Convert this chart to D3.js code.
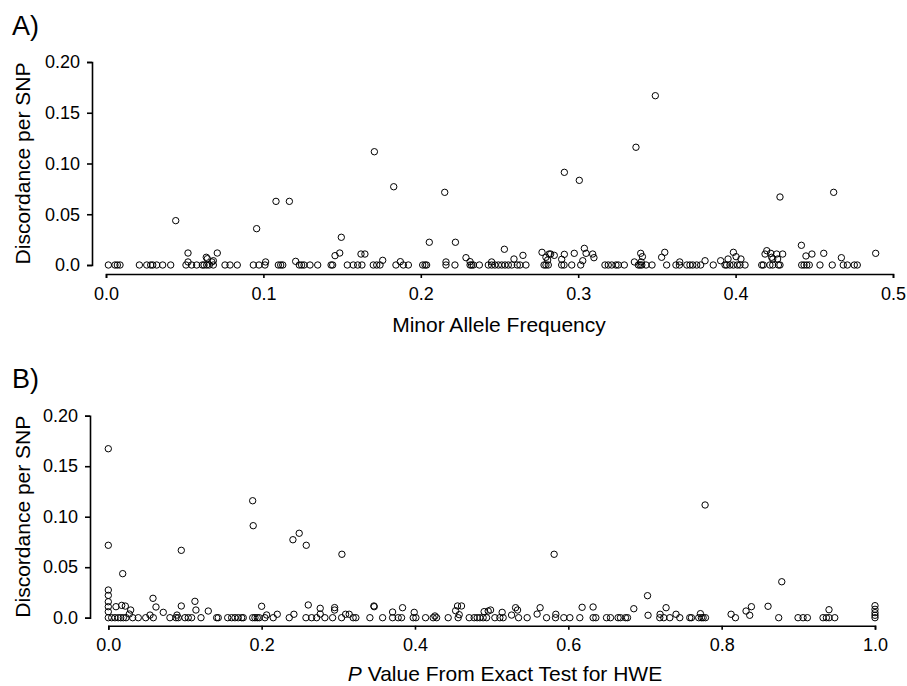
<!DOCTYPE html>
<html>
<head>
<meta charset="utf-8">
<script src="https://cdn.jsdelivr.net/npm/d3@7"></script>
<style>
  html, body { margin: 0; padding: 0; background: #fff; }
  svg { display: block; font-family: "Liberation Sans", Arial, sans-serif; }
</style>
</head>
<body>
<svg id="chart" width="907" height="686"></svg>
<script>
// ---------- Panel A data: Minor Allele Frequency vs discordance ----------
const mafTicks = [0.0, 0.1, 0.2, 0.3, 0.4, 0.5];
const discTicks = [0.0, 0.05, 0.10, 0.15, 0.20];
const discTickLabels = ["0.0", "0.05", "0.10", "0.15", "0.20"];

// SNPs with zero discordance (MAF)
const mafZeroDisc = [0.0015, 0.0057, 0.0072, 0.0089, 0.0212, 0.0259, 0.0284, 0.0297, 0.0322, 0.036, 0.0411,
  0.0508, 0.0544, 0.0576, 0.0612, 0.0623, 0.064, 0.0656, 0.0682, 0.0756, 0.0788, 0.0834,
  0.0936, 0.0972, 0.101, 0.1095, 0.111, 0.1123, 0.1228, 0.1243, 0.1258, 0.1296, 0.1345,
  0.143, 0.144, 0.1533, 0.1571, 0.1599, 0.1626, 0.1698, 0.172, 0.1741, 0.1842, 0.1889, 0.1921,
  0.2012, 0.2027, 0.2037, 0.216, 0.2217, 0.2313, 0.2323, 0.2334, 0.2372,
  0.2429, 0.245, 0.2471, 0.2493, 0.2514, 0.2535, 0.2556, 0.2578, 0.2613, 0.263, 0.2668,
  0.2783, 0.2795, 0.281, 0.2895, 0.291, 0.2959, 0.3016,
  0.317, 0.3191, 0.3213, 0.324, 0.3255, 0.3293, 0.3382, 0.3393, 0.3404, 0.3431, 0.3469,
  0.3562, 0.3621, 0.3643, 0.369, 0.371, 0.3728, 0.3753, 0.3778, 0.3858,
  0.3933, 0.3943, 0.3964, 0.3986, 0.4011, 0.4028, 0.406,
  0.4166, 0.4176, 0.4218, 0.4236, 0.4272, 0.4282, 0.442, 0.4435, 0.4452, 0.4468,
  0.4536, 0.4614, 0.4684, 0.471, 0.4754, 0.4773];

// SNPs with non-zero discordance
const mafNonZero = [0.0443, 0.0957, 0.108, 0.1165, 0.1705, 0.1828, 0.2152, 0.1495, 0.2054, 0.222,
  0.1485, 0.1455, 0.0521, 0.0707, 0.0637, 0.0644, 0.0682, 0.0673, 0.0521,
  0.162, 0.1645, 0.1758, 0.1205, 0.1014, 0.187, 0.216,
  0.349, 0.3367, 0.2912, 0.3007, 0.4282, 0.4623,
  0.4418, 0.2531, 0.277, 0.2815, 0.2825, 0.2848, 0.2912, 0.2975, 0.3039, 0.305, 0.3092, 0.31,
  0.2649, 0.2592, 0.2287, 0.2313, 0.245, 0.2795, 0.2806, 0.2895, 0.3029, 0.3357, 0.3397, 0.3408,
  0.34, 0.355, 0.353, 0.3645, 0.3806, 0.3905, 0.3986, 0.3952, 0.4003, 0.4034,
  0.4198, 0.4187, 0.4223, 0.4261, 0.4299, 0.4229, 0.4236, 0.4267, 0.4447, 0.4485, 0.456, 0.4672, 0.489];
const discNonZeroA = [0.0437, 0.0358, 0.0627, 0.0627, 0.1116, 0.0771, 0.0716, 0.0273, 0.0224, 0.0224,
  0.0118, 0.0092, 0.0118, 0.0118, 0.0076, 0.0062, 0.0042, 0.003, 0.003,
  0.0108, 0.0108, 0.0046, 0.0036, 0.003, 0.0033, 0.003,
  0.1668, 0.116, 0.0913, 0.0834, 0.067, 0.0716,
  0.0194, 0.0155, 0.0125, 0.0108, 0.0108, 0.0095, 0.0105, 0.0115, 0.0164, 0.0115, 0.0108, 0.0072,
  0.0095, 0.0059, 0.0072, 0.0033, 0.003, 0.0076, 0.0049, 0.0056, 0.0042, 0.003, 0.0115, 0.0082,
  0.003, 0.0125, 0.0076, 0.003, 0.0042, 0.0042, 0.0125, 0.0059, 0.0082, 0.0059,
  0.0141, 0.0108, 0.0115, 0.0108, 0.0108, 0.0076, 0.0059, 0.0059, 0.0089, 0.0108, 0.0115, 0.0072, 0.0115];

// ---------- Panel B data: HWE exact test P value vs discordance ----------
const pTicks = [0.0, 0.2, 0.4, 0.6, 0.8, 1.0];

const pZeroDisc = [0, 0.0044, 0.0087, 0.013, 0.0162, 0.0196, 0.0231, 0.0318, 0.0391, 0.0488, 0.0587,
  0.0804, 0.0883, 0.0913, 0.1, 0.1043, 0.1087, 0.1209,
  0.1413, 0.1434, 0.1557, 0.1609, 0.1652, 0.1695, 0.1739, 0.176,
  0.1883, 0.1913, 0.1943, 0.1969, 0.2043, 0.2151, 0.236,
  0.2578, 0.2652, 0.2717, 0.2825, 0.2926, 0.3043, 0.3194, 0.3229,
  0.3412, 0.3578, 0.3708, 0.3781, 0.3825, 0.3977, 0.4012, 0.4138, 0.4237, 0.4282, 0.4433, 0.4563,
  0.4707, 0.4772, 0.4811, 0.4846, 0.4889, 0.4934, 0.5042, 0.5107, 0.515, 0.5351, 0.5463,
  0.5716, 0.5833, 0.5941, 0.602, 0.615, 0.6324, 0.6359, 0.6498, 0.655, 0.6649, 0.668, 0.6746, 0.6772,
  0.7193, 0.7245, 0.7324, 0.7454, 0.7584, 0.7606, 0.7701, 0.7736, 0.7758, 0.7789,
  0.818, 0.8744, 0.8996, 0.9062, 0.9118, 0.9322, 0.9366, 0.9401, 0.9475, 1.0];

const pNonZero = [0, 0, 0.0188, 0.0952, 0.1883, 0.189, 0.2408, 0.249, 0.2582, 0.3047, 0.5815, 0.7784, 0.8784, 0.7033,
  0, 0, 0, 0, 0,
  0.01, 0.0175, 0.0222, 0.0292, 0.0274, 0.0544, 0.0583, 0.0622, 0.0717, 0.0896, 0.0952, 0.113, 0.1143, 0.1304,
  0.2, 0.2065, 0.2204, 0.2421, 0.2608, 0.2764, 0.2764, 0.2952, 0.2952, 0.3095, 0.3142, 0.3464, 0.3468,
  0.3708, 0.3838, 0.399, 0.426, 0.453,
  0.4555, 0.4607, 0.4577, 0.4902, 0.4955, 0.4986, 0.5137, 0.526, 0.5312, 0.5338, 0.5593, 0.5632, 0.5837,
  0.618, 0.6323, 0.6854, 0.704, 0.7197, 0.7275, 0.7405, 0.7723, 0.8123, 0.8318, 0.8366, 0.8388, 0.8605, 0.94,
  1, 1, 1, 1];
const discNonZeroB = [0.1673, 0.0717, 0.0436, 0.0667, 0.1158, 0.0911, 0.0772, 0.0836, 0.0717, 0.0628, 0.0628, 0.1116, 0.0356, 0.0218,
  0.0274, 0.0221, 0.0158, 0.0109, 0.0059,
  0.0109, 0.0122, 0.0115, 0.0076, 0.0036, 0.0026, 0.0192, 0.0106, 0.0053, 0.0026, 0.0116, 0.0162, 0.0076, 0.0066,
  0.0113, 0.0027, 0.0034, 0.0034, 0.0126, 0.0093, 0.0036, 0.01, 0.0076, 0.0034, 0.0034, 0.0116, 0.0109,
  0.0056, 0.0099, 0.0053, 0.0017, 0.0069,
  0.0116, 0.0116, 0.003, 0.006, 0.0066, 0.0076, 0.0053, 0.0026, 0.0099, 0.0076, 0.0036, 0.0099, 0.0034,
  0.0103, 0.0106, 0.0089, 0.0024, 0.0034, 0.0099, 0.0034, 0.004, 0.0034, 0.0066, 0.0024, 0.0109, 0.0113, 0.0079,
  0.0119, 0.0083, 0.005, 0.0024];

// ---------- drawing ----------
const svg = d3.select("#chart");

function panel(cfg) {
  const g = svg.append("g");
  const x = d3.scaleLinear().domain(cfg.xDomain).range(cfg.xRange);
  const y = d3.scaleLinear().domain([0, 0.2]).range(cfg.yRange);

  // y axis
  const ya = g.append("g")
    .attr("transform", `translate(${cfg.yAxisX},0)`)
    .call(d3.axisLeft(y).tickValues(discTicks).tickFormat((d, i) => discTickLabels[i])
      .tickSizeOuter(0).tickSize(5).tickPadding(7));
  // x axis
  const xa = g.append("g")
    .attr("transform", `translate(0,${cfg.xAxisY})`)
    .call(d3.axisBottom(x).tickValues(cfg.xTicks).tickFormat(d3.format(".1f"))
      .tickSizeOuter(0).tickSize(4).tickPadding(9));
  [ya, xa].forEach(a => {
    a.select(".domain").attr("stroke", "#000").attr("stroke-width", 1.6);
    a.selectAll(".tick line").attr("stroke", "#000").attr("stroke-width", 1.6);
    a.selectAll(".tick text").attr("fill", "#000").style("font-size", "18px")
      .style("font-family", '"Liberation Sans", Arial, sans-serif');
  });

  // points
  const pts = cfg.zeroX.map(v => [v, 0]).concat(cfg.nzX.map((v, i) => [v, cfg.nzY[i]]));
  g.append("g").selectAll("circle").data(pts).join("circle")
    .attr("cx", d => x(d[0])).attr("cy", d => y(d[1]))
    .attr("r", 3.2)
    .attr("fill", "none").attr("stroke", "#000").attr("stroke-width", 1);

  // titles
  g.append("text")
    .attr("transform", `translate(30,${(cfg.yRange[0] + cfg.yRange[1]) / 2}) rotate(-90)`)
    .attr("text-anchor", "middle").style("font-size", "21px").attr("fill", "#000")
    .text("Discordance per SNP");
  const xt = g.append("text")
    .attr("x", cfg.xTitleX).attr("y", cfg.xTitleY)
    .attr("text-anchor", "middle").style("font-size", "21px").attr("fill", "#000");
  cfg.xTitle.forEach(p => xt.append("tspan").style("font-style", p.italic ? "italic" : "normal").text(p.t));
  g.append("text").attr("x", 12).attr("y", cfg.labelY)
    .style("font-size", "27px").attr("fill", "#000").text(cfg.label);
}

panel({
  xDomain: [0, 0.5], xRange: [106, 893], yRange: [265, 62],
  yAxisX: 92, xAxisY: 274, xTicks: mafTicks,
  zeroX: mafZeroDisc, nzX: mafNonZero, nzY: discNonZeroA,
  xTitle: [{ t: "Minor Allele Frequency" }], xTitleX: 499, xTitleY: 332,
  label: "A)", labelY: 35
});

panel({
  xDomain: [0, 1], xRange: [108.3, 875], yRange: [617.7, 415.7],
  yAxisX: 90, xAxisY: 625.7, xTicks: pTicks,
  zeroX: pZeroDisc, nzX: pNonZero, nzY: discNonZeroB,
  xTitle: [{ t: "P", italic: true }, { t: " Value From Exact Test for HWE" }], xTitleX: 505, xTitleY: 681,
  label: "B)", labelY: 388
});
</script>
</body>
</html>
